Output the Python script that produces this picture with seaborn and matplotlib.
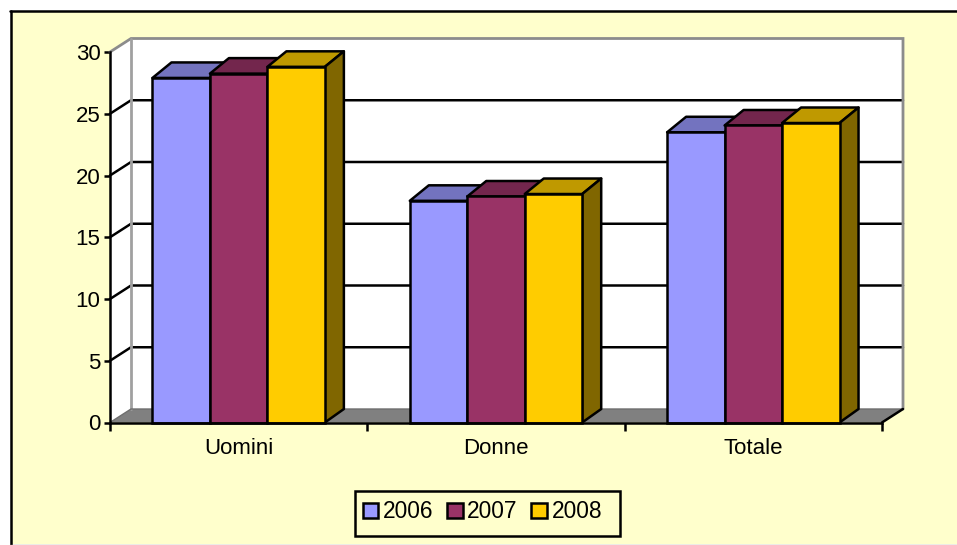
import numpy as np
import pandas as pd
import seaborn as sns
import matplotlib.pyplot as plt
from matplotlib.patches import Polygon, Patch, Rectangle
from matplotlib.colors import to_rgb

categories = ['Uomini', 'Donne', 'Totale']
years = ['2006', '2007', '2008']
values_2006 = [27.9, 17.95, 23.5]
values_2007 = [28.25, 18.3, 24.05]
values_2008 = [28.8, 18.5, 24.25]
yticks = [0, 5, 10, 15, 20, 25, 30]
colors = ['#9999FF', '#993366', '#FFCC00']

W, H = 957, 545
sns.set_style('white')
plt.rcParams['font.family'] = ['Liberation Sans', 'DejaVu Sans']
FS = 16
LEG_FS = 16.4
BLACK_LW = 1.8
GRAY = '#808080'

df = pd.DataFrame({
    'cat': categories * 3,
    'year': [y for y in years for _ in categories],
    'val': values_2006 + values_2007 + values_2008,
})

fig = plt.figure(figsize=(W / 100, H / 100), dpi=100, facecolor='white')

# chart area frame, runs off the right side of the image
fig.patches.append(Rectangle((10.5 / W, 1 - 544 / H), 1, (544 - 11) / H,
                             transform=fig.transFigure, facecolor='#FFFFCC',
                             edgecolor='none', zorder=-5))
fig.add_artist(plt.Line2D([10.5 / W, 10.5 / W], [1 - 544.5 / H, 1 - 11 / H], color='black', lw=BLACK_LW))
fig.add_artist(plt.Line2D([10 / W, 1], [1 - 11 / H, 1 - 11 / H], color='black', lw=BLACK_LW))
fig.add_artist(plt.Line2D([10 / W, 1], [1 - 544.5 / H, 1 - 544.5 / H], color='#A0A080', lw=1))

left, right, top, bottom = 110, 882, 52, 422.5
ax = fig.add_axes([left / W, 1 - bottom / H, (right - left) / W, (bottom - top) / H])
ax.set_facecolor('none')

sns.barplot(data=df, x='cat', y='val', hue='year', palette=colors, width=0.67,
            edgecolor='black', linewidth=BLACK_LW, saturation=1, legend=False, ax=ax)
ax.set_xlim(-0.5, 2.5)
ax.set_ylim(0, 30)
ax.set_xlabel('')
ax.set_ylabel('')

# pixel sizes in data units, for the fake 3D depth
px_x = 3 / (right - left)
px_y = 30 / (bottom - top)
wall_dx, wall_dy = 21 * px_x, 13.5 * px_y
bar_dx, bar_dy_top, bar_dy_bot = 19 * px_x, 15.5 * px_y, 13.5 * px_y


def shade(color, f):
    return tuple(c * f for c in to_rgb(color))


x0, x1 = -0.5, 2.5
# floor and walls
ax.add_patch(Polygon([(x0, 0), (x1, 0), (x1 + wall_dx, wall_dy), (x0 + wall_dx, wall_dy)],
                     facecolor=GRAY, edgecolor='none', clip_on=False, zorder=1))
ax.add_patch(Polygon([(x0 + wall_dx, wall_dy), (x1 + wall_dx, wall_dy), (x1 + wall_dx, 30 + wall_dy), (x0 + wall_dx, 30 + wall_dy)],
                     facecolor='white', edgecolor='none', clip_on=False, zorder=1))
ax.add_patch(Polygon([(x0, 0), (x0 + wall_dx, wall_dy), (x0 + wall_dx, 30 + wall_dy), (x0, 30)],
                     facecolor='white', edgecolor='none', clip_on=False, zorder=1))

# gridlines on the walls
for v in yticks[1:-1]:
    ax.plot([x0, x0 + wall_dx, x1 + wall_dx], [v, v + wall_dy, v + wall_dy], color='black',
            lw=BLACK_LW, clip_on=False, zorder=2, solid_joinstyle='miter')
ax.plot([x0, x0 + wall_dx, x1 + wall_dx, x1 + wall_dx], [30, 30 + wall_dy, 30 + wall_dy, wall_dy],
        color='#8C8C8C', lw=2, clip_on=False, zorder=2, solid_joinstyle='miter')
ax.plot([x0 + wall_dx, x0 + wall_dx], [wall_dy, 30 + wall_dy], color='#A0A0A0', lw=2, clip_on=False, zorder=2)
ax.plot([x0, x0 + wall_dx, x1 + wall_dx], [0, wall_dy, wall_dy], color='#6E6E6E', lw=1, clip_on=False, zorder=2)
ax.plot([x1, x1 + wall_dx], [0, wall_dy], color='black', lw=BLACK_LW, clip_on=False, zorder=2)

# top and side face of each bar, left to right so the overlaps come out right
bars = sorted([p for p in ax.patches if isinstance(p, Rectangle) and p.get_height() > 0], key=lambda p: p.get_x())
for i, bar in enumerate(bars):
    a, w, h = bar.get_x(), bar.get_width(), bar.get_height()
    col = bar.get_facecolor()[:3]
    z = 3 + i * 0.1
    ax.add_patch(Polygon([(a, h), (a + w, h), (a + w + bar_dx, h + bar_dy_top), (a + bar_dx, h + bar_dy_top)],
                         facecolor=shade(col, 0.75), edgecolor='black', lw=BLACK_LW, zorder=z, clip_on=False, joinstyle='round'))
    ax.add_patch(Polygon([(a + w, 0), (a + w, h), (a + w + bar_dx, h + bar_dy_top), (a + w + bar_dx, bar_dy_bot)],
                         facecolor=shade(col, 0.5), edgecolor='black', lw=BLACK_LW, zorder=z, clip_on=False, joinstyle='round'))
    bar.set_zorder(z + 0.05)
    bar.set_clip_on(False)

sns.despine(ax=ax, top=True, right=True)
for s in ['left', 'bottom']:
    ax.spines[s].set_color('black')
    ax.spines[s].set_linewidth(BLACK_LW)
    ax.spines[s].set_zorder(6)

ax.set_yticks(yticks)
ax.tick_params(axis='y', length=4.3, width=BLACK_LW, color='black', labelsize=FS, pad=2.5, left=True, labelcolor='black')
ax.set_xticks([-0.5, 0.5, 1.5, 2.5], labels=['', '', '', ''])
ax.set_xticks([0, 1, 2], labels=categories, minor=True)
ax.tick_params(axis='x', which='major', length=6, width=BLACK_LW, color='black', bottom=True)
ax.tick_params(axis='x', which='minor', length=0, labelsize=FS, pad=11.5, labelcolor='black')

# legend box drawn on its own, the padding in the reference is lopsided
fig.patches.append(Rectangle((355 / W, 1 - 536 / H), 265 / W, 45 / H, transform=fig.transFigure,
                             facecolor='#FFFFCC', edgecolor='black', lw=BLACK_LW, zorder=4))
handles = [Patch(facecolor=c, edgecolor='black', lw=BLACK_LW, label=y) for c, y in zip(colors, years)]
leg = fig.legend(handles=handles, loc='center', bbox_to_anchor=(482.5 / W, 1 - 512 / H), ncol=3,
                 fontsize=LEG_FS, frameon=False, labelcolor='black', handlelength=0.68, handleheight=0.68,
                 handletextpad=0.2, columnspacing=0.6, borderpad=0, borderaxespad=0)
leg.set_zorder(5)

fig.savefig('out.png', dpi=100, facecolor=fig.get_facecolor())
